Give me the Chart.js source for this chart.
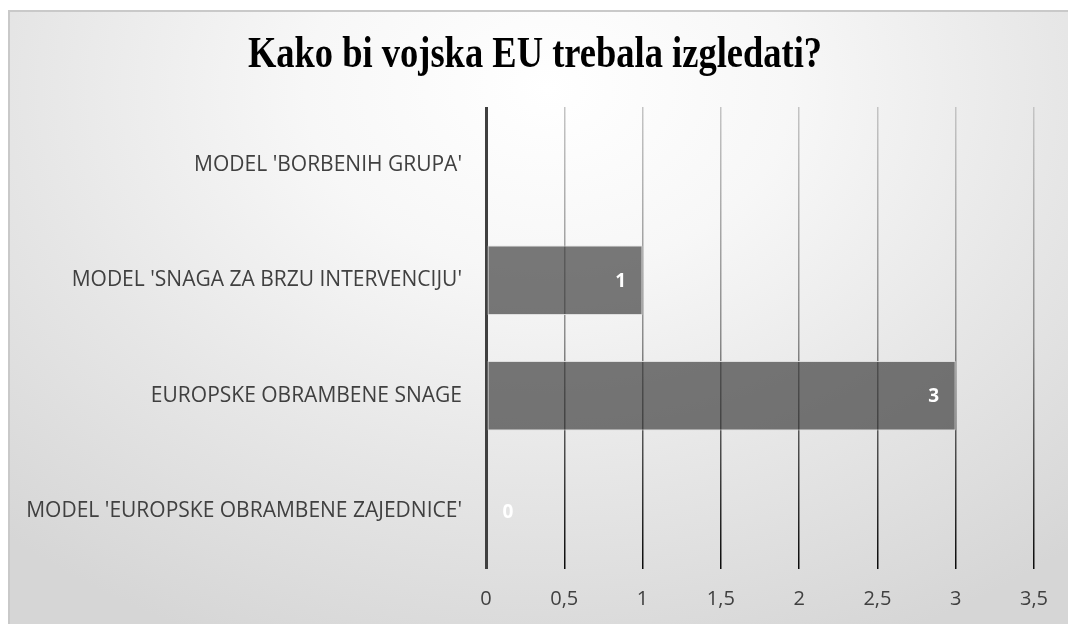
<!DOCTYPE html>
<html>
<head>
<meta charset="utf-8">
<script src="https://cdn.jsdelivr.net/npm/chart.js@4/dist/chart.umd.min.js"></script>
<style>
  html, body { margin: 0; padding: 0; background: #ffffff; }
  body { width: 1068px; height: 624px; position: relative; overflow: hidden; }
  #frame {
    position: absolute; left: 8px; top: 10px; width: 1080px; height: 640px;
    box-sizing: border-box; border: 2px solid #c9c9c9;
    background: radial-gradient(ellipse 75% 95% at 50% 12%, #ffffff 0%, #f7f7f7 30%, #e6e6e6 65%, #d6d6d6 100%);
  }
  #wrap { position: absolute; left: 0; top: 0; width: 1068px; height: 624px; }
</style>
</head>
<body>
<div id="frame"></div>
<div id="wrap"><canvas id="c" width="1068" height="624"></canvas></div>
<script>
const chartTitle = 'Kako bi vojska EU trebala izgledati?';
const categories = [
  "MODEL 'BORBENIH GRUPA'",
  "MODEL 'SNAGA ZA BRZU INTERVENCIJU'",
  "EUROPSKE OBRAMBENE SNAGE",
  "MODEL 'EUROPSKE OBRAMBENE ZAJEDNICE'"
];
const votes = [null, 1, 3, 0];
const axisMax = 3.5;
const axisStep = 0.5;

// Heading: a bold serif, slightly tall, centred over the frame
const heading = {
  id: 'heading',
  afterDraw(chart) {
    const ctx = chart.ctx;
    ctx.save();
    ctx.fillStyle = '#000000';
    ctx.font = 'bold 36.5px "Liberation Serif", "Times New Roman", serif';
    ctx.textAlign = 'center';
    ctx.textBaseline = 'alphabetic';
    ctx.translate(535, 67);
    ctx.scale(1, 1.22);
    ctx.fillText(chartTitle, 0, 0);
    ctx.restore();
  }
};

// Value labels in white, drawn inside the end of each bar
const barValueLabels = {
  id: 'barValueLabels',
  afterDatasetsDraw(chart) {
    const ctx = chart.ctx;
    const meta = chart.getDatasetMeta(0);
    const xScale = chart.scales.x;
    const base = xScale.getPixelForValue(0);
    ctx.save();
    ctx.fillStyle = '#ffffff';
    ctx.font = 'bold 19px "Open Sans"';
    ctx.textAlign = 'center';
    ctx.textBaseline = 'middle';
    meta.data.forEach((bar, i) => {
      const v = chart.data.datasets[0].data[i];
      if (v === null || v === undefined) return;
      const x = Math.max(bar.x - 22, base + 22);
      ctx.fillText(String(v), x, bar.y + 1);
    });
    ctx.restore();
  }
};

function gridColor(context) {
  const chart = context.chart;
  const area = chart.chartArea;
  if (context.index === 0) return '#404040';
  if (!area) return '#808080';
  const g = chart.ctx.createLinearGradient(0, area.top, 0, area.bottom);
  g.addColorStop(0, '#c4c4c4');
  g.addColorStop(0.5, '#8a8a8a');
  g.addColorStop(1, '#0a0a0a');
  return g;
}

new Chart(document.getElementById('c'), {
  type: 'bar',
  data: {
    labels: categories,
    datasets: [{
      data: votes,
      backgroundColor: 'rgba(58,58,58,0.68)',
      borderColor: 'rgba(220,220,220,0.9)',
      borderWidth: 1,
      borderSkipped: false,
      barPercentage: 0.75,
      categoryPercentage: 0.8
    }]
  },
  options: {
    indexAxis: 'y',
    responsive: false,
    animation: false,
    devicePixelRatio: 1,
    layout: { padding: { left: 0, right: 34, top: 107, bottom: 0 } },
    plugins: {
      legend: { display: false },
      tooltip: { enabled: false },
      title: { display: false }
    },
    scales: {
      x: {
        min: 0,
        max: axisMax,
        ticks: {
          stepSize: axisStep,
          color: '#404040',
          padding: 18,
          font: { family: '"Open Sans"', size: 20 },
          callback: (v) => String(v).replace('.', ',')
        },
        grid: {
          drawTicks: false,
          color: gridColor,
          lineWidth: (ctx) => ctx.index === 0 ? 3 : 1.5
        },
        border: { display: false },
        afterFit(scale) { scale.height = 55; }
      },
      y: {
        ticks: {
          color: '#404040',
          padding: 24,
          font: { family: '"Open Sans"', size: 21 }
        },
        grid: { display: false, drawTicks: false },
        border: { display: false },
        afterFit(scale) { scale.width = 486; }
      }
    }
  },
  plugins: [barValueLabels, heading]
});
</script>
</body>
</html>
